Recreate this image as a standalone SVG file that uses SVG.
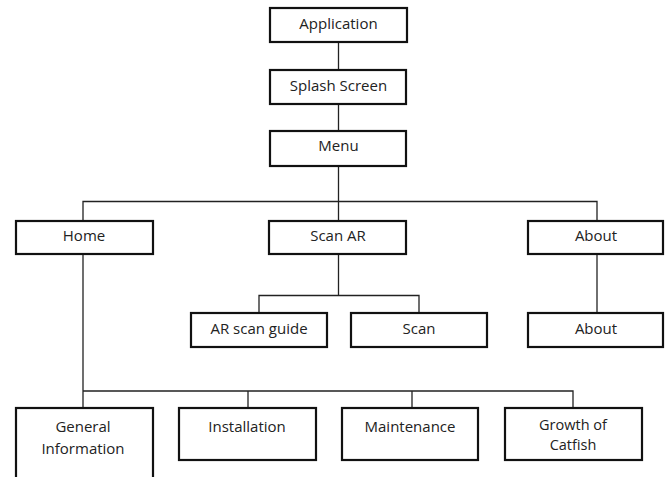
<svg xmlns="http://www.w3.org/2000/svg" width="670" height="477" viewBox="0 0 670 477">
<style>
.box{fill:#fff;stroke:#111;stroke-width:2.2}
.t{font-family:"Open Sans","Liberation Sans",sans-serif;font-size:15px;fill:#222;text-anchor:middle}
.s{font-size:14.5px}
.c{fill:none;stroke:#222;stroke-width:1.3}
</style>
<rect width="670" height="477" fill="#fff"/>
<g id="connectors">
<path class="c" d="M338.5 42V70M338.5 104V131M338.5 166V221M83 221V201.5H597V221"/>
<path class="c" d="M338.5 254V295.5M259 313V295.5H419V313"/>
<path class="c" d="M597 254V313"/>
<path class="c" d="M83 254V408M83 391H573V408M248 391V408M412 391V408"/>
</g>
<g id="application"><rect class="box" x="270" y="8" width="137" height="34"/><text class="t" x="338.5" y="29">Application</text></g>
<g id="splash"><rect class="box" x="270" y="70" width="136" height="34"/><text class="t" x="338.5" y="91">Splash Screen</text></g>
<g id="menu"><rect class="box" x="270" y="131" width="136" height="35"/><text class="t" x="338.5" y="151">Menu</text></g>
<g id="home"><rect class="box" x="16" y="221" width="137" height="33"/><text class="t" x="84" y="240.5">Home</text></g>
<g id="scanar"><rect class="box" x="269" y="221" width="137" height="33"/><text class="t" x="338" y="240.5">Scan AR</text></g>
<g id="about1"><rect class="box" x="528" y="221" width="135" height="33"/><text class="t" x="596" y="240.5">About</text></g>
<g id="arguide"><rect class="box" x="191" y="313" width="136" height="34"/><text class="t" x="259" y="333.5">AR scan guide</text></g>
<g id="scan"><rect class="box" x="351" y="313" width="136" height="34"/><text class="t" x="419" y="333.5">Scan</text></g>
<g id="about2"><rect class="box" x="528" y="313" width="135" height="34"/><text class="t" x="596" y="333.5">About</text></g>
<g id="general"><rect class="box" x="16" y="408" width="137" height="80"/><text class="t" x="83" y="432">General</text><text class="t" x="83" y="453.5">Information</text></g>
<g id="installation"><rect class="box" x="179" y="408" width="137" height="52"/><text class="t" x="247" y="432">Installation</text></g>
<g id="maintenance"><rect class="box" x="342" y="408" width="136" height="52"/><text class="t" x="410" y="432">Maintenance</text></g>
<g id="growth"><rect class="box" x="505" y="408" width="137" height="52"/><text class="t s" x="573" y="430">Growth of</text><text class="t s" x="573" y="450">Catfish</text></g>
</svg>
